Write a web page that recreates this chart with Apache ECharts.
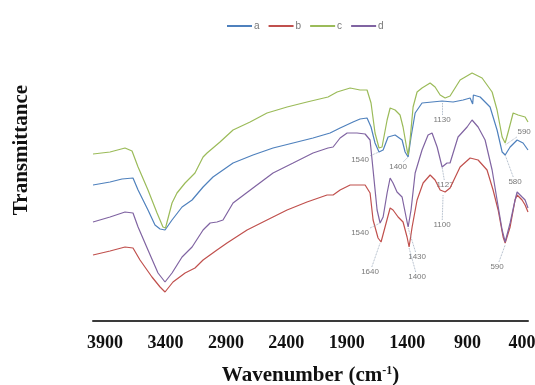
<!DOCTYPE html>
<html>
<head>
<meta charset="utf-8">
<script src="https://cdn.jsdelivr.net/npm/echarts@6/dist/echarts.min.js"></script>
<style>
  html, body { margin: 0; padding: 0; background: #fff; }
  #chart { width: 535px; height: 385px; }
</style>
</head>
<body>
<div id="chart"></div>
<script>
// wavenumber (cm-1) vs. transmittance (arbitrary, stacked curves)
var seriesNames = ['a', 'b', 'c', 'd'];
var seriesColors = ['#4F81BD', '#C0504D', '#9BBB59', '#8064A2'];
var wavenumberTicks = [3900, 3400, 2900, 2400, 1900, 1400, 900, 400];

var curveA = [[4000,136],[3859,139],[3760,142],[3669,143],[3627,131],[3545,111],[3487,96],[3445,92],[3404,91],[3346,101],[3263,114],[3180,121],[3089,134],[3007,144],[2841,158],[2676,166],[2510,173],[2344,178],[2179,183],[2038,188],[1955,193],[1848,199],[1790,202],[1732,203],[1699,194],[1666,178],[1633,169],[1599,171],[1558,184],[1500,186],[1442,181],[1417,169],[1392,164],[1368,184],[1334,208],[1277,218],[1194,219],[1111,220],[1020,219],[937,221],[879,223],[863,224],[858,217],[852,226],[796,224],[714,214],[656,191],[614,169],[589,166],[548,174],[490,181],[441,178],[400,171]];

var curveB = [[4000,66],[3859,70],[3735,74],[3669,73],[3611,61],[3512,44],[3445,34],[3404,29],[3338,39],[3238,48],[3156,53],[3089,61],[2974,71],[2891,78],[2725,91],[2560,101],[2394,111],[2229,119],[2063,126],[2013,126],[1955,131],[1872,136],[1790,136],[1748,136],[1707,128],[1682,101],[1641,83],[1616,79],[1583,94],[1541,113],[1517,111],[1475,104],[1434,99],[1401,84],[1384,74],[1359,94],[1318,121],[1268,138],[1210,146],[1169,141],[1127,131],[1086,129],[1045,133],[962,154],[879,163],[813,161],[739,151],[689,131],[647,111],[606,84],[589,78],[548,94],[507,121],[490,126],[449,121],[424,116],[400,109]];

var curveC = [[4000,167],[3859,169],[3735,173],[3677,170],[3627,154],[3545,131],[3470,108],[3421,94],[3400,93],[3346,118],[3305,128],[3238,138],[3156,148],[3089,164],[3056,168],[2949,179],[2841,191],[2700,199],[2560,208],[2394,214],[2229,219],[2055,224],[1980,229],[1872,233],[1790,231],[1732,231],[1699,218],[1666,188],[1633,173],[1608,174],[1566,201],[1541,213],[1500,211],[1459,206],[1434,194],[1401,171],[1392,166],[1376,181],[1351,214],[1318,229],[1277,233],[1210,238],[1169,234],[1127,226],[1086,223],[1045,225],[962,241],[863,248],[780,243],[697,229],[656,211],[614,184],[589,178],[564,189],[523,208],[482,206],[424,204],[400,199]];

var curveD = [[4000,99],[3859,104],[3735,109],[3669,108],[3627,94],[3545,71],[3462,48],[3404,39],[3346,48],[3263,64],[3180,74],[3089,91],[3031,98],[2974,99],[2924,101],[2841,118],[2676,133],[2510,148],[2344,158],[2179,168],[2055,173],[2013,174],[1955,183],[1897,188],[1815,188],[1748,187],[1707,181],[1682,151],[1649,111],[1624,98],[1599,104],[1566,128],[1541,143],[1517,138],[1484,129],[1442,124],[1409,104],[1392,94],[1368,111],[1334,148],[1277,171],[1227,186],[1194,188],[1152,174],[1111,154],[1070,158],[1045,158],[979,184],[904,194],[863,201],[813,194],[755,181],[697,151],[656,121],[614,91],[589,79],[548,98],[507,121],[490,129],[449,124],[424,121],[400,113]];

// peak annotations: text, label spot, peak it points at
var noteLabels = ['1130', '590', '1540', '1400', '1127', '580', '1100', '1540', '1430', '1640', '1400', '590'];
var notePos = [[1111,201],[432,189],[1790,161],[1475,154],[1086,136],[507,139],[1111,96],[1790,88],[1318,64],[1707,49],[1318,44],[656,54]];
var noteTarget = [[1111,218],[589,176],[1633,169],[1392,164],[1111,154],[589,166],[1103,126],[1624,98],[1392,93],[1624,78],[1384,73],[589,76]];

var curves = [curveA, curveB, curveC, curveD];
var pxPerWn = 435 / 3600;

var leaders = noteTarget.map(function (t, i) {
    var p = notePos[i];
    var dx = (p[0] - t[0]) * pxPerWn, dy = t[1] - p[1];
    var len = Math.sqrt(dx * dx + dy * dy) || 1;
    var ux = dx / len, uy = dy / len;
    var g = Math.min(ux ? 10 / Math.abs(ux) : 99, uy ? 5 / Math.abs(uy) : 99);
    var start = [p[0] - ux * g / pxPerWn, p[1] + uy * g];
    return [{ coord: start }, { coord: t }];
});

var series = seriesNames.map(function (n, i) {
    return {
        name: n,
        type: 'line',
        data: curves[i],
        showSymbol: false,
        lineStyle: { width: 1.2, color: seriesColors[i] },
        itemStyle: { color: seriesColors[i] }
    };
});

series.push({
    name: 'notes',
    type: 'scatter',
    symbolSize: 1,
    itemStyle: { color: 'rgba(0,0,0,0)' },
    silent: true,
    data: noteLabels.map(function (t, i) { return { name: t, value: notePos[i] }; }),
    label: {
        show: true, position: 'inside', formatter: '{b}',
        fontSize: 8, color: '#555', fontFamily: 'Liberation Sans'
    },
    markLine: {
        silent: true,
        symbol: ['none', 'none'],
        label: { show: false },
        lineStyle: { type: 'dotted', color: '#8a9bb0', width: 0.8 },
        data: leaders
    }
});

var mychart = echarts.init(document.getElementById('chart'));
var option = {
    animation: false,
    backgroundColor: '#fff',
    legend: {
        data: seriesNames,
        left: 222,
        top: 16,
        icon: 'rect',
        itemWidth: 25,
        itemHeight: 2,
        itemGap: 9,
        textStyle: { fontSize: 10, color: '#777', fontFamily: 'Liberation Sans', padding: [0, 0, 0, -3] }
    },
    grid: { left: 93, right: 7, top: 40, bottom: 64, outerBoundsMode: 'none', containLabel: false },
    xAxis: {
        type: 'value',
        inverse: true,
        min: 400,
        max: 4000,
        name: '{t|Wavenumber (cm}{s|-1}{t|)}',
        nameLocation: 'middle',
        nameGap: 44,
        nameTextStyle: {
            rich: {
                t: { fontSize: 21, fontWeight: 'bold', fontFamily: 'Liberation Serif', color: '#111' },
                s: { fontSize: 12, fontWeight: 'bold', fontFamily: 'Liberation Serif', color: '#111', verticalAlign: 'top' }
            }
        },
        axisLine: { lineStyle: { color: '#3a3a3a', width: 2 } },
        axisTick: { show: false },
        splitLine: { show: false },
        axisLabel: {
            customValues: wavenumberTicks,
            margin: 13,
            fontSize: 18,
            fontWeight: 'bold',
            fontFamily: 'Liberation Serif',
            color: '#111',
            formatter: function (v) { return v === 400 ? '{e|400}' : String(v); },
            rich: { e: { fontSize: 18, fontWeight: 'bold', fontFamily: 'Liberation Serif', color: '#111', padding: [0, 12, 0, 0] } }
        }
    },
    yAxis: {
        type: 'value',
        min: 0,
        max: 281,
        show: false
    },
    graphic: [{
        type: 'text',
        x: 22,
        y: 150,
        rotation: Math.PI / 2,
        style: {
            text: 'Transmittance',
            font: 'bold 21px "Liberation Serif"',
            fill: '#111',
            textAlign: 'center',
            textVerticalAlign: 'middle',
            align: 'center',
            verticalAlign: 'middle'
        }
    }],
    series: series
};
mychart.setOption(option);
</script>
</body>
</html>
